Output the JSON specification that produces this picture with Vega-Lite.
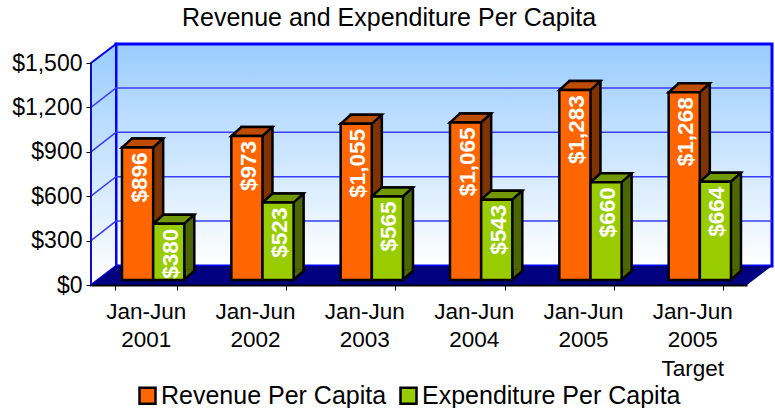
{
"$schema":"https://vega.github.io/schema/vega-lite/v6.json",
"width":656,"height":222,
"autosize":{"type":"none"},
"padding":{"left":91,"top":63,"right":28,"bottom":123},
"background":"white",
"config":{"view":{"stroke":null},"font":"Liberation Sans"},
"title":{"text":"Revenue and Expenditure Per Capita","anchor":"middle","dx":-30,"offset":7,"fontSize":25,"fontWeight":"normal","color":"#000","font":"Liberation Sans"},
"data":{"values":[
{"period":"Jan-Jun 2001","series":"Revenue Per Capita","value":896},
{"period":"Jan-Jun 2001","series":"Expenditure Per Capita","value":380},
{"period":"Jan-Jun 2002","series":"Revenue Per Capita","value":973},
{"period":"Jan-Jun 2002","series":"Expenditure Per Capita","value":523},
{"period":"Jan-Jun 2003","series":"Revenue Per Capita","value":1055},
{"period":"Jan-Jun 2003","series":"Expenditure Per Capita","value":565},
{"period":"Jan-Jun 2004","series":"Revenue Per Capita","value":1065},
{"period":"Jan-Jun 2004","series":"Expenditure Per Capita","value":543},
{"period":"Jan-Jun 2005","series":"Revenue Per Capita","value":1283},
{"period":"Jan-Jun 2005","series":"Expenditure Per Capita","value":660},
{"period":"Jan-Jun 2005 Target","series":"Revenue Per Capita","value":1268},
{"period":"Jan-Jun 2005 Target","series":"Expenditure Per Capita","value":664}
]},
"resolve":{"scale":{"xOffset":"independent"}},
"encoding":{
"x":{"field":"period","type":"nominal","sort":null,"scale":{"paddingInner":0.43,"paddingOuter":0.215},
"axis":{"title":null,"labelAngle":0,"labelExpr":"split(datum.label,' ')","labelFontSize":22.5,"labelColor":"#000","labelLineHeight":28.5,"labelPadding":10,"labelBaseline":"top","tickColor":"#000","tickBand":"extent","tickSize":5,"domainColor":"#000","domainWidth":2,"zindex":1,"labelFont":"Liberation Sans"}},
"y":{"type":"quantitative","scale":{"domain":[0,1500],"nice":false},
"axis":{"title":null,"values":[0,300,600,900,1200,1500],"format":"$,.0f","grid":false,"labelFontSize":23,"labelColor":"#000","tickColor":"#000","tickSize":5,"labelPadding":4,"domainColor":"#1a1a80","zindex":1,"labelFont":"Liberation Sans"}}
},
"layer":[
{"data":{"values":[{"k":"wall"}]},
 "mark":{"type":"point","filled":true,"size":40000,"opacity":1,
  "shape":"M-3.03,-2.41 L3.53,-2.41 L3.53,-0.19 L-3.03,-0.19 Z",
  "fill":{"gradient":"linear","x1":0,"y1":0,"x2":0,"y2":1,"stops":[{"offset":0,"color":"#99CCFF"},{"offset":1,"color":"#FFFFFF"}]},
  "stroke":"#0000FF","strokeWidth":3},
 "encoding":{"x":null,"y":{"datum":0}}},
{"data":{"values":[{"k":"side"}]},
 "mark":{"type":"point","filled":true,"size":40000,"opacity":1,
  "shape":"M-3.28,-2.22 L-3.03,-2.41 L-3.03,-0.19 L-3.28,0 Z",
  "fill":{"gradient":"linear","x1":0,"y1":0,"x2":0,"y2":1,"stops":[{"offset":0,"color":"#99CCFF"},{"offset":1,"color":"#FFFFFF"}]},
  "stroke":"#0000FF","strokeWidth":2},
 "encoding":{"x":null,"y":{"datum":0}}},
{"data":{"values":[{"tick":300},{"tick":600},{"tick":900},{"tick":1200}]},
 "mark":{"type":"point","filled":false,"fill":null,"size":40000,"opacity":1,
  "shape":"M-3.28,0 L-3.03,-0.195 L3.53,-0.195","stroke":"#3C3CFF","strokeWidth":1.5},
 "encoding":{"x":null,"y":{"field":"tick","type":"quantitative"}}},
{"data":{"values":[{"k":"floor"}]},
 "mark":{"type":"point","filled":true,"size":40000,"opacity":1,
  "shape":"M-3.28,0 L3.28,0 L3.53,-0.19 L-3.03,-0.19 Z","fill":"#000080","stroke":null},
 "encoding":{"x":null,"y":{"datum":0}}},
{"mark":{"type":"bar","yOffset":-14,"y2Offset":-14,"stroke":"#000","strokeWidth":2.5},
 "encoding":{
  "xOffset":{"field":"series","scale":{"domain":["Revenue Per Capita","Expenditure Per Capita"],"range":[17.5,79.8],"padding":0}},
  "y":{"field":"value","type":"quantitative"},
  "fill":{"condition":{"test":"datum.series==='Revenue Per Capita'","value":"#7F3300"},"value":"#4C6600"}}},
{"mark":{"type":"point","filled":true,"size":40000,"opacity":1,"yOffset":-5,
  "shape":"M0.155,-0.105 L0.155,0 L0.255,-0.09 L0.255,-0.105","stroke":"#000","strokeWidth":2.5},
 "encoding":{
  "xOffset":{"field":"series","scale":{"domain":["Revenue Per Capita","Expenditure Per Capita"],"range":[23.1,54.2],"padding":0}},
  "y":{"datum":0},
  "fill":{"condition":{"test":"datum.series==='Revenue Per Capita'","value":"#7F3300"},"value":"#4C6600"}}},
{"mark":{"type":"point","filled":true,"size":40000,"opacity":1,"yOffset":-5,
  "shape":"M-0.155,0 L0.155,0 L0.255,-0.09 L-0.055,-0.09 Z","stroke":"#000","strokeWidth":2.5},
 "encoding":{
  "xOffset":{"field":"series","scale":{"domain":["Revenue Per Capita","Expenditure Per Capita"],"range":[23.1,54.2],"padding":0}},
  "y":{"field":"value","type":"quantitative"},
  "fill":{"condition":{"test":"datum.series==='Revenue Per Capita'","value":"#BF4D00"},"value":"#739900"}}},
{"mark":{"type":"bar","yOffset":-5,"y2Offset":-5,"stroke":"#000","strokeWidth":2.5},
 "encoding":{
  "xOffset":{"field":"series","scale":{"domain":["Revenue Per Capita","Expenditure Per Capita"],"range":[7.5,69.8],"padding":0}},
  "y":{"field":"value","type":"quantitative"},
  "color":{"field":"series","type":"nominal","scale":{"domain":["Revenue Per Capita","Expenditure Per Capita"],"range":["#FF6600","#99CC00"]},
   "legend":{"title":null,"orient":"none","legendX":44,"legendY":320,"direction":"horizontal","symbolType":"square","symbolSize":256,"symbolStrokeWidth":2.5,"symbolStrokeColor":"#000","labelFontSize":25,"labelColor":"#000","labelFont":"Liberation Sans","labelLimit":400,"columnPadding":8,"labelOffset":1,"symbolOpacity":1}}}},
{"mark":{"type":"text","color":"#FFF","angle":270,"align":"right","baseline":"middle","fontSize":22.5,"fontWeight":"bold","yOffset":0,"font":"Liberation Sans"},
 "encoding":{
  "xOffset":{"field":"series","scale":{"domain":["Revenue Per Capita","Expenditure Per Capita"],"range":[25.1,56.2],"padding":0}},
  "y":{"field":"value","type":"quantitative"},
  "text":{"field":"value","type":"quantitative","format":"$,.0f"}}}
]
}
